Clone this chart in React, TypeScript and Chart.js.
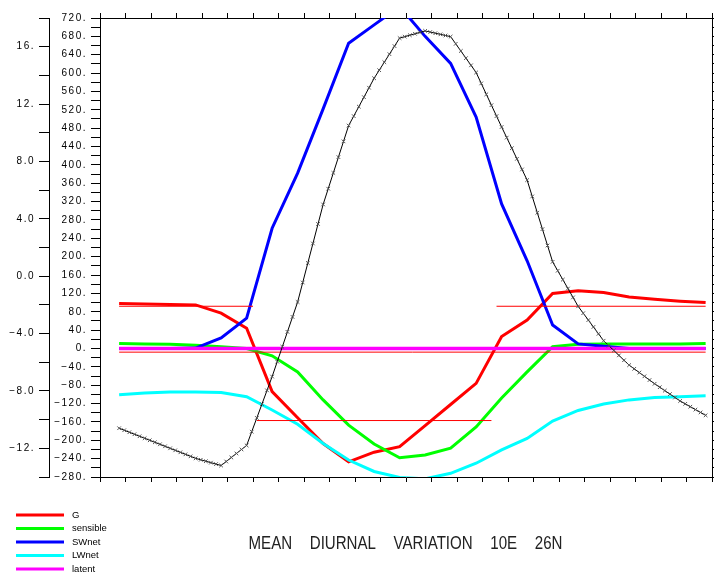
import React, { useEffect, useRef } from "react";
import { Chart, registerables } from "chart.js";

Chart.register(...registerables);

// ---- data ----
const HOURS = [0.75, 1.75, 2.75, 3.75, 4.75, 5.75, 6.75, 7.75, 8.75, 9.75, 10.75, 11.75,
  12.75, 13.75, 14.75, 15.75, 16.75, 17.75, 18.75, 19.75, 20.75, 21.75, 22.75, 23.75];
const G = [98, 97, 96, 95, 77, 44, -94, -151, -207, -247, -226, -214,
  -168, -122, -76, 26, 62, 120, 126, 122, 112, 107, 103, 100];
const SENSIBLE = [11, 10, 9, 7, 4, 0, -16, -51, -112, -167, -208, -238,
  -232, -217, -171, -108, -51, 4, 9, 10, 10, 10, 10, 11];
const SWNET = [0, 0, 0, 1, 23, 66, 262, 382, 522, 665, 705, 745,
  680, 621, 504, 315, 191, 51, 10, 5, 0, 0, 0, 0];
const LWNET = [-101, -97, -95, -95, -96, -105, -134, -165, -207, -243, -268, -281,
  -284, -272, -250, -221, -196, -158, -135, -121, -112, -107, -105, -103];
const LATENT = [0, 0, 0, 0, 0, 0, 0, 0, 0, 0, 0, 0,
  0, 0, 0, 0, 0, 0, 0, 0, 0, 0, 0, 0];
const TEMP = [-10.6, -11.3, -12.0, -12.7, -13.2, -11.8, -7.0, -1.8, 5.0, 10.5, 13.8, 16.6,
  17.1, 16.7, 14.2, 10.4, 6.7, 1.0, -2.1, -4.5, -6.2, -7.5, -8.7, -9.7];

// thin red reference segments
const G_MEAN_START = [0.75, 6.15, 15.55, 0.75];
const G_MEAN_END = [6.0, 15.35, 23.75, 23.75];
const G_MEAN_VALUE = [92, -157, 92, -8];

const LEGEND_LABELS = ["G", "sensible", "SWnet", "LWnet", "latent"];
const SERIES_COLORS = ["#ff0000", "#00ff00", "#0000ff", "#00ffff", "#ff00ff"];
const TITLE = "MEAN DIURNAL VARIATION 10E 26N";

const FLUX_MIN = -280;
const FLUX_MAX = 720;
const FLUX_STEP = 20;
const FLUX_LABEL_EVERY = 40;
const TEMP_MIN = -14;
const TEMP_MAX = 18;
const TEMP_STEP = 2;
const TEMP_LABEL_EVERY = 4;
const HOUR_MIN = 0;
const HOUR_MAX = 24;

const MINUS = "\u2212";

function fluxLabel(v: number): string {
  const r = Math.round(v);
  if (r % FLUX_LABEL_EVERY !== 0) return "";
  return (r < 0 ? MINUS : "") + Math.abs(r) + ".";
}

function tempLabel(v: number): string {
  const r = Math.round(v);
  if (r % TEMP_LABEL_EVERY !== 0) return "";
  const a = Math.abs(r);
  return (r < 0 ? MINUS : "") + (a >= 10 ? a + "." : a + ".0");
}

const series = (ys: number[]) => HOURS.map((h, i) => ({ x: h, y: ys[i] }));

const decorPlugin = {
  id: "decor",
  beforeDraw(chart: any) {
    chart.ctx.letterSpacing = "1.5px";
  },
  afterDatasetsDraw(chart: any) {
    const ctx = chart.ctx as CanvasRenderingContext2D;
    const idx = chart.data.datasets.findIndex((d: any) => d.id === "temp");
    const meta = chart.getDatasetMeta(idx);
    const pts = meta.data;
    const area = chart.chartArea;
    ctx.save();
    ctx.beginPath();
    ctx.rect(area.left, area.top, area.right - area.left, area.bottom - area.top);
    ctx.clip();
    ctx.strokeStyle = "#555";
    ctx.lineWidth = 1;
    const s = 1.8;
    const mark = (x: number, y: number) => {
      ctx.moveTo(x - s, y - s);
      ctx.lineTo(x + s, y + s);
      ctx.moveTo(x - s, y + s);
      ctx.lineTo(x + s, y - s);
    };
    ctx.beginPath();
    const perSeg = 5;
    for (let i = 0; i < pts.length - 1; i++) {
      const p0 = pts[i];
      const p1 = pts[i + 1];
      for (let k = 0; k < perSeg; k++) {
        const t = k / perSeg;
        mark(p0.x + (p1.x - p0.x) * t, p0.y + (p1.y - p0.y) * t);
      }
    }
    const last = pts[pts.length - 1];
    mark(last.x, last.y);
    ctx.stroke();
    ctx.restore();
  },
  afterDraw(chart: any) {
    const ctx = chart.ctx as any;
    ctx.save();
    ctx.letterSpacing = "0px";
    // legend
    const legendY0 = 515;
    const legendDy = 13.5;
    LEGEND_LABELS.forEach((label, i) => {
      const y = legendY0 + i * legendDy;
      ctx.strokeStyle = SERIES_COLORS[i];
      ctx.lineWidth = 3;
      ctx.beginPath();
      ctx.moveTo(16, y);
      ctx.lineTo(64, y);
      ctx.stroke();
      ctx.fillStyle = "#000";
      ctx.font = "9.5px 'Liberation Sans', Arial, sans-serif";
      ctx.textAlign = "left";
      ctx.textBaseline = "middle";
      ctx.fillText(label, 72, y);
    });
    // title
    ctx.font = "17.5px 'Liberation Sans', Arial, sans-serif";
    ctx.wordSpacing = "15.6px";
    ctx.textAlign = "left";
    ctx.textBaseline = "alphabetic";
    ctx.fillStyle = "#222";
    const w = ctx.measureText(TITLE).width;
    ctx.translate(248.5, 549);
    ctx.scale(314 / w, 1);
    ctx.fillText(TITLE, 0, 0);
    ctx.restore();
  },
};

export default function App() {
  const canvasRef = useRef<HTMLCanvasElement | null>(null);

  useEffect(() => {
    document.body.style.margin = "0";
    const canvas = canvasRef.current;
    if (!canvas) return;

    const lineDs = (label: string, ys: number[], color: string, order: number, width = 3) => ({
      label,
      data: series(ys),
      borderColor: color,
      backgroundColor: color,
      borderWidth: width,
      pointRadius: 0,
      fill: false,
      tension: 0,
      clip: 0,
      order,
      yAxisID: "yFlux",
      xAxisID: "x",
    });

    const thin = G_MEAN_VALUE.map((v, i) => ({
      label: "gmean" + i,
      data: [
        { x: G_MEAN_START[i], y: v },
        { x: G_MEAN_END[i], y: v },
      ],
      borderColor: "#ff0000",
      borderWidth: 1,
      pointRadius: 0,
      fill: false,
      clip: 0,
      order: 5,
      yAxisID: "yFlux",
      xAxisID: "x",
    }));

    const tickFont = { family: "'Liberation Sans', Arial, sans-serif", size: 10 };

    const chart = new Chart(canvas, {
      type: "line",
      data: {
        datasets: [
          lineDs(LEGEND_LABELS[0], G, SERIES_COLORS[0], 10),
          lineDs(LEGEND_LABELS[1], SENSIBLE, SERIES_COLORS[1], 9),
          lineDs(LEGEND_LABELS[2], SWNET, SERIES_COLORS[2], 8),
          lineDs(LEGEND_LABELS[3], LWNET, SERIES_COLORS[3], 7),
          lineDs(LEGEND_LABELS[4], LATENT, SERIES_COLORS[4], 6, 3.5),
          ...thin,
          {
            id: "temp",
            label: "temp",
            data: series(TEMP),
            borderColor: "#000",
            borderWidth: 1,
            pointRadius: 0,
            fill: false,
            clip: 0,
            order: 1,
            yAxisID: "yTemp",
            xAxisID: "x",
          } as any,
        ],
      },
      options: {
        animation: false,
        responsive: false,
        devicePixelRatio: 1,
        events: [],
        layout: { padding: 0 },
        plugins: {
          legend: { display: false },
          tooltip: { enabled: false },
          title: { display: false },
        },
        scales: {
          x: {
            type: "linear",
            position: "bottom",
            min: HOUR_MIN,
            max: HOUR_MAX,
            ticks: { stepSize: 1, display: false, autoSkip: false, maxTicksLimit: 1000 },
            grid: { drawOnChartArea: false, tickLength: 5, color: "#000", tickColor: "#000" },
            border: { color: "#000", width: 1 },
            afterFit: (s: any) => {
              s.height = 97;
            },
          },
          xTop: {
            type: "linear",
            position: "top",
            min: HOUR_MIN,
            max: HOUR_MAX,
            ticks: { stepSize: 1, display: false, autoSkip: false, maxTicksLimit: 1000 },
            grid: { drawOnChartArea: false, tickLength: 5, color: "#000", tickColor: "#000" },
            border: { color: "#000", width: 1 },
            afterFit: (s: any) => {
              s.height = 18;
            },
          },
          yFlux: {
            type: "linear",
            position: "left",
            weight: 0,
            min: FLUX_MIN,
            max: FLUX_MAX,
            ticks: {
              stepSize: FLUX_STEP,
              autoSkip: false,
              maxTicksLimit: 1000,
              padding: 4,
              color: "#000",
              font: tickFont,
              callback: (v: any) => fluxLabel(Number(v)),
            },
            grid: { drawOnChartArea: false, tickLength: 9, color: "#000", tickColor: "#000" },
            border: { color: "#000", width: 1 },
            afterFit: (s: any) => {
              s.width = 51;
            },
          },
          yTemp: {
            type: "linear",
            position: "left",
            weight: 10,
            min: TEMP_MIN,
            max: TEMP_MAX,
            ticks: {
              stepSize: TEMP_STEP,
              autoSkip: false,
              maxTicksLimit: 1000,
              padding: 4,
              color: "#000",
              font: tickFont,
              callback: (v: any) => tempLabel(Number(v)),
            },
            grid: { drawOnChartArea: false, tickLength: 10, color: "#000", tickColor: "#000" },
            border: { color: "#000", width: 1 },
            afterFit: (s: any) => {
              s.width = 49;
            },
          },
          yRight: {
            type: "linear",
            position: "right",
            min: FLUX_MIN,
            max: FLUX_MAX,
            ticks: { stepSize: FLUX_STEP, display: false, autoSkip: false, maxTicksLimit: 1000 },
            grid: { drawOnChartArea: false, tickLength: 2, color: "#000", tickColor: "#000" },
            border: { color: "#000", width: 1 },
            afterFit: (s: any) => {
              s.width = 2;
            },
          },
        },
      } as any,
      plugins: [decorPlugin as any],
    });

    return () => {
      chart.destroy();
    };
  }, []);

  return (
    <div style={{ position: "absolute", left: 0, top: 0, width: 714, height: 574, background: "#fff" }}>
      <canvas ref={canvasRef} width={714} height={574} style={{ display: "block" }} />
    </div>
  );
}
